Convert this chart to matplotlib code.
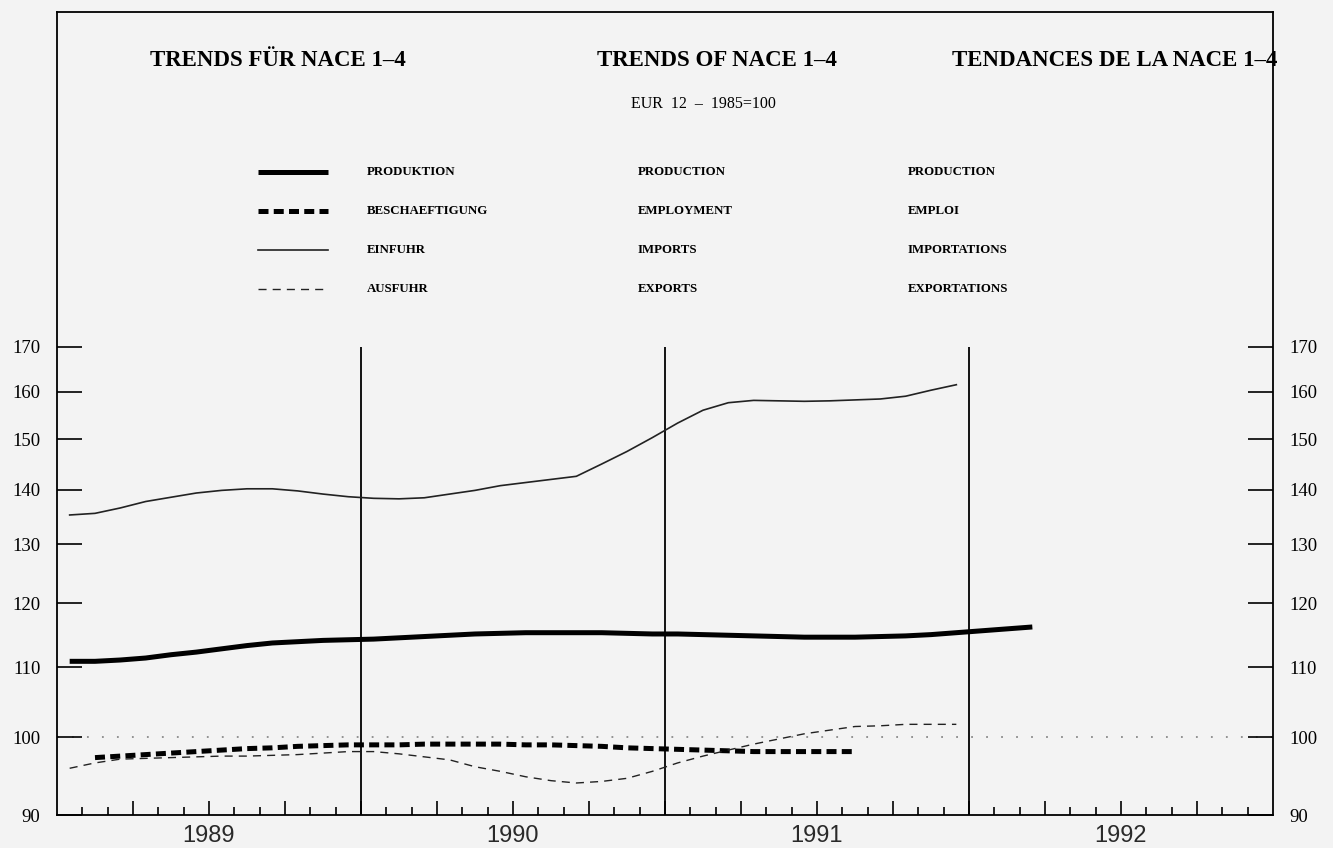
import numpy as np
import matplotlib
matplotlib.use("Agg")
import matplotlib.pyplot as plt
from matplotlib.ticker import FixedLocator, NullLocator, NullFormatter

# ---------------- data (monthly, EUR 12, 1985=100) ----------------
years = [1989, 1990, 1991, 1992]
year_labels = ["1989", "1990", "1991", "1992"]
y_ticks = [90, 100, 110, 120, 130, 140, 150, 160, 170]

# month index 0 = January 1989
production_start = 0
production = [110.9, 110.9, 111.1, 111.4, 111.9, 112.3, 112.8, 113.3, 113.7, 113.9,
              114.1, 114.2, 114.3, 114.5, 114.7, 114.9, 115.1, 115.2, 115.3, 115.3,
              115.3, 115.3, 115.2, 115.1, 115.1, 115.0, 114.9, 114.8, 114.7, 114.6,
              114.6, 114.6, 114.7, 114.8, 115.0, 115.3, 115.6, 115.9, 116.2]

employment_start = 1
employment = [97.3, 97.5, 97.7, 97.9, 98.1, 98.3, 98.5, 98.6, 98.8, 98.9,
              99.0, 99.0, 99.0, 99.1, 99.1, 99.1, 99.1, 99.0, 99.0, 98.9,
              98.8, 98.6, 98.5, 98.4, 98.3, 98.2, 98.1, 98.1, 98.1, 98.1, 98.1]

imports_start = 0
imports = [135.3, 135.6, 136.6, 137.8, 138.6, 139.4, 139.9, 140.2, 140.2, 139.8,
           139.2, 138.7, 138.4, 138.3, 138.5, 139.2, 139.9, 140.8, 141.4, 142.0,
           142.6, 145.0, 147.5, 150.3, 153.3, 156.0, 157.6, 158.1, 158.0, 157.9,
           158.0, 158.2, 158.4, 159.0, 160.3, 161.5]

exports_start = 0
exports = [95.9, 96.6, 97.1, 97.2, 97.3, 97.4, 97.5, 97.5, 97.6, 97.7,
           97.9, 98.1, 98.1, 97.8, 97.4, 97.0, 96.1, 95.5, 94.8, 94.3,
           94.0, 94.2, 94.6, 95.5, 96.6, 97.5, 98.3, 99.1, 99.8, 100.5,
           101.0, 101.5, 101.6, 101.8, 101.8, 101.8]

titles = ["TRENDS FÜR NACE 1–4", "TRENDS OF NACE 1–4", "TENDANCES DE LA NACE 1–4"]
subtitle = "EUR  12  –  1985=100"
legend_de = ["PRODUKTION", "BESCHAEFTIGUNG", "EINFUHR", "AUSFUHR"]
legend_en = ["PRODUCTION", "EMPLOYMENT", "IMPORTS", "EXPORTS"]
legend_fr = ["PRODUCTION", "EMPLOI", "IMPORTATIONS", "EXPORTATIONS"]

# ---------------- helpers ----------------
def month_x(start, n):
    return years[0] + (start + np.arange(n) + 0.5) / 12.0

bg = "#f3f3f3"
serif = ["Liberation Serif", "DejaVu Serif"]
sans = ["Liberation Sans", "DejaVu Sans"]

fig = plt.figure(figsize=(13.33, 8.48), dpi=100, facecolor=bg)
ax = fig.add_axes([57/1333, 1 - 815/848, (1273 - 57)/1333, (815 - 12)/848])
ax.set_facecolor(bg)

ax.set_yscale("log")
ax.set_ylim(90, 268)
ax.set_xlim(years[0], years[-1] + 1)

styles = [
    dict(color="black", lw=3.6, ls="-", solid_capstyle="butt"),
    dict(color="black", lw=3.6, ls=(0, (2.0, 1.05)), dash_capstyle="butt"),
    dict(color="#222222", lw=1.2, ls="-"),
    dict(color="#222222", lw=1.0, ls=(0, (5.8, 4.4))),
]
series = [(production_start, production), (employment_start, employment),
          (imports_start, imports), (exports_start, exports)]

for (st, vals), sty in zip(series, styles):
    ax.plot(month_x(st, len(vals)), vals, zorder=3, **sty)

# reference line at 100
ax.axhline(100, color="#8a8a8a", lw=1.3, ls=(0, (1, 7.3)), zorder=1)

# year separators
ax.vlines(years[1:], 90, 170, color="black", lw=1.3, zorder=2)

# y ticks both sides
ax.yaxis.set_major_locator(FixedLocator(y_ticks))
ax.yaxis.set_minor_locator(NullLocator())
ax.yaxis.set_minor_formatter(NullFormatter())
ax.set_yticklabels([str(v) for v in y_ticks])
ax.tick_params(axis="y", which="major", direction="in", length=18, width=1.2,
               left=True, right=True, labelleft=True, labelright=True, pad=12,
               labelsize=13.5, colors="black")
for lab in ax.get_yticklabels():
    lab.set_fontfamily(serif)

# x ticks: months (minor) and quarters (major), no labels
months = years[0] + np.arange(1, 12 * len(years)) / 12.0
quarters = years[0] + np.arange(3, 12 * len(years), 3) / 12.0
ax.xaxis.set_major_locator(FixedLocator(quarters))
ax.xaxis.set_minor_locator(FixedLocator(months))
ax.tick_params(axis="x", which="major", direction="in", length=10, width=1.2,
               labelbottom=False, bottom=True)
ax.tick_params(axis="x", which="minor", direction="in", length=6, width=1.2, bottom=True)

for sp in ax.spines.values():
    sp.set_linewidth(1.3)
    sp.set_color("black")

# year labels under the axis
for yr, lab in zip(years, year_labels):
    ax.annotate(lab, xy=(yr + 0.5, 0), xycoords=("data", "axes fraction"),
                xytext=(0, -7.5), textcoords="offset points", ha="center", va="top",
                fontsize=17, family=sans, color="#2a2a2a")

# titles
for xf, t in zip([0.1817, 0.5428, 0.870], titles):
    ax.text(xf, 0.9402, t, transform=ax.transAxes, ha="center", va="center",
            fontsize=16.5, fontweight="bold", family=serif)
ax.text(0.532, 0.8854, subtitle, transform=ax.transAxes, ha="center", va="center",
        fontsize=11.5, family=serif)

# legend block
leg_y = [0.8007, 0.7522, 0.7036, 0.655]
for yy, sty, de, en, fr in zip(leg_y, styles, legend_de, legend_en, legend_fr):
    ax.plot([0.1653, 0.2229], [yy, yy], transform=ax.transAxes, **sty)
    for xf, t in zip([0.2549, 0.4778, 0.6998], [de, en, fr]):
        ax.text(xf, yy, t, transform=ax.transAxes, ha="left", va="center",
                fontsize=9.3, fontweight="bold", family=serif)

fig.savefig("out.png", dpi=100, facecolor=bg)
